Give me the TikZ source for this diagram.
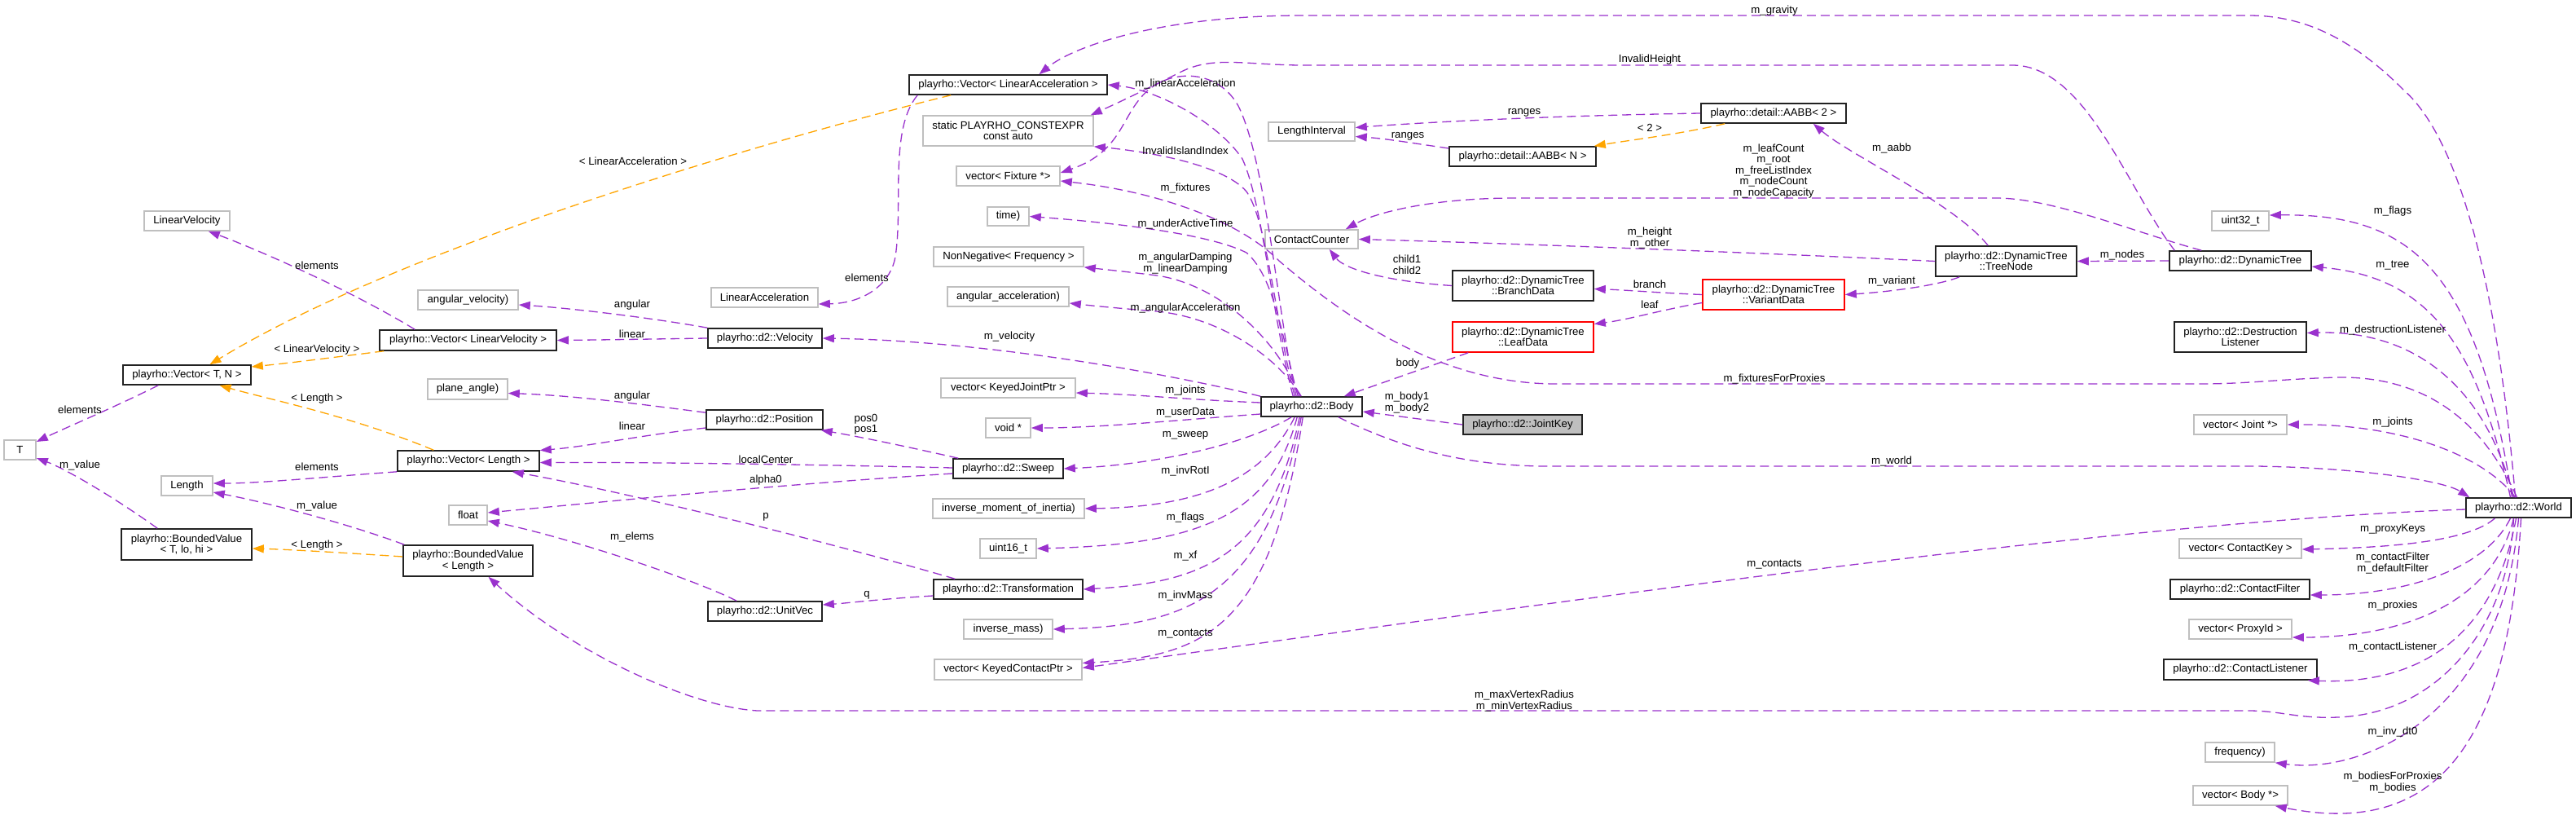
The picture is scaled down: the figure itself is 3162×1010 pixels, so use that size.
\documentclass[tikz,border=0pt]{standalone}
\usepackage{fontspec}
\setmainfont{Liberation Sans}
\usetikzlibrary{arrows.meta}
\definecolor{pur}{HTML}{9A32CD}
\definecolor{ora}{HTML}{FFA500}
\definecolor{gbord}{HTML}{BFBFBF}
\definecolor{bbord}{HTML}{222222}
\newcommand{\mybox}[7]{\node[#1, minimum width={(#5-#3)*1pt}, minimum height={(#6-#4)*1pt}] (#2) at ({(#3+#5)/2},{(#4+#6)/2}) {#7};}
\begin{document}
\begin{tikzpicture}[x=1pt,y=-1pt,
  every node/.style={font=\fontsize{13.2}{13.5}\selectfont},
  basebox/.style={rectangle, inner sep=0pt, align=center, line width=1.6pt, fill=white},
  nb/.style={basebox, draw=bbord},
  ng/.style={basebox, draw=gbord},
  nr/.style={basebox, draw=red},
  nj/.style={basebox, draw=bbord, fill=gbord},
  lbl/.style={inner sep=0pt, align=center},
  pe/.style={color=pur, line width=1.3pt, dash pattern=on 11pt off 6pt, -{Triangle[length=14pt,width=10pt]}},
  oe/.style={pe, color=ora},
]
\fill[white] (0,0) rectangle (3162,1010);
\useasboundingbox (0,0) rectangle (3162,1010);

% ---------- nodes ----------
\mybox{ng}{LinearVelocity}{177}{259}{282}{283}{LinearVelocity}
\mybox{nb}{VecLinAcc}{1116}{92}{1359}{116}{playrho::Vector< LinearAcceleration >}
\mybox{ng}{static}{1133}{142}{1342}{179}{static PLAYRHO\_CONSTEXPR\\const auto}
\mybox{ng}{vecFix}{1174}{204}{1301}{228}{vector< Fixture *>}
\mybox{ng}{time}{1212}{254}{1263}{277}{time)}
\mybox{ng}{nonneg}{1146}{303}{1330}{327}{NonNegative< Frequency >}
\mybox{ng}{LengthInterval}{1557}{150}{1663}{173}{LengthInterval}
\mybox{nb}{AABB2}{2088}{127}{2266}{151}{playrho::detail::AABB< 2 >}
\mybox{nb}{AABBN}{1779}{180}{1959}{204}{playrho::detail::AABB< N >}
\mybox{ng}{ContactCounter}{1553}{282}{1667}{305}{ContactCounter}
\mybox{nb}{TreeNode}{2376}{302}{2549}{339}{playrho::d2::DynamicTree\\::TreeNode}
\mybox{nb}{DynamicTree}{2663}{308}{2837}{332}{playrho::d2::DynamicTree}
\mybox{ng}{uintt}{2715}{259}{2785}{283}{uint32\_t}
\mybox{nb}{VecTN}{151}{448}{308}{472}{playrho::Vector< T, N >}
\mybox{ng}{T}{5}{540}{44}{564}{T}
\mybox{nb}{VecLinVel}{466}{405}{683}{430}{playrho::Vector< LinearVelocity >}
\mybox{ng}{angvel}{513}{356}{636}{380}{angular\_velocity)}
\mybox{ng}{planeangle}{525}{465}{623}{490}{plane\_angle)}
\mybox{nb}{VecLen}{488}{553}{662}{578}{playrho::Vector< Length >}
\mybox{ng}{Length}{198}{584}{261}{608}{Length}
\mybox{ng}{float}{551}{620}{598}{644}{float}
\mybox{nb}{BVT}{149}{649}{309}{687}{playrho::BoundedValue\\< T, lo, hi >}
\mybox{nb}{BVL}{495}{669}{654}{707}{playrho::BoundedValue\\< Length >}
\mybox{ng}{LinearAcceleration}{873}{353}{1004}{377}{LinearAcceleration}
\mybox{ng}{angacc}{1163}{352}{1312}{376}{angular\_acceleration)}
\mybox{nb}{Velocity}{869}{403}{1009}{427}{playrho::d2::Velocity}
\mybox{ng}{vecKJP}{1155}{464}{1320}{488}{vector< KeyedJointPtr >}
\mybox{nb}{Position}{867}{503}{1010}{527}{playrho::d2::Position}
\mybox{ng}{voidp}{1210}{513}{1265}{537}{void *}
\mybox{nb}{Sweep}{1170}{563}{1305}{587}{playrho::d2::Sweep}
\mybox{ng}{invmoi}{1145}{612}{1331}{636}{inverse\_moment\_of\_inertia)}
\mybox{ng}{uintst}{1203}{661}{1272}{685}{uint16\_t}
\mybox{nb}{Body}{1548}{487}{1672}{511}{playrho::d2::Body}
\mybox{nb}{BranchData}{1783}{332}{1956}{369}{playrho::d2::DynamicTree\\::BranchData}
\mybox{nr}{VariantData}{2090}{343}{2264}{380}{playrho::d2::DynamicTree\\::VariantData}
\mybox{nr}{LeafData}{1783}{395}{1956}{432}{playrho::d2::DynamicTree\\::LeafData}
\mybox{nj}{JointKey}{1796}{509}{1942}{533}{playrho::d2::JointKey}
\mybox{nb}{DestructionListener}{2669}{395}{2831}{432}{playrho::d2::Destruction\\Listener}
\mybox{ng}{vecJoint}{2693}{509}{2807}{533}{vector< Joint *>}
\mybox{nb}{World}{3027}{611}{3156}{635}{playrho::d2::World}
\mybox{ng}{vecCK}{2675}{661}{2825}{685}{vector< ContactKey >}
\mybox{nb}{Transformation}{1146}{711}{1329}{735}{playrho::d2::Transformation}
\mybox{nb}{UnitVec}{869}{738}{1009}{762}{playrho::d2::UnitVec}
\mybox{ng}{invmass}{1183}{760}{1292}{784}{inverse\_mass)}
\mybox{ng}{vecKCP}{1147}{809}{1328}{834}{vector< KeyedContactPtr >}
\mybox{nb}{ContactFilter}{2664}{711}{2835}{735}{playrho::d2::ContactFilter}
\mybox{ng}{vecProxy}{2687}{760}{2813}{784}{vector< ProxyId >}
\mybox{nb}{ContactListener}{2656}{809}{2844}{834}{playrho::d2::ContactListener}
\mybox{ng}{frequency}{2707}{911}{2792}{935}{frequency)}
\mybox{ng}{vecBody}{2692}{964}{2808}{988}{vector< Body *>}

% ---------- edges: Body ----------
\draw[pe] (JointKey.west) -- ([yshift=-6pt]Body.east);
\draw[pe] ([xshift=20pt]LeafData.south west) -- ([xshift=-23pt]Body.north east);
\draw[pe] ([xshift=-30pt]Body.south east) .. controls (1720,550) and (1800,572) .. (1900,572) -- (2770,572) .. controls (2900,574) and (3000,590) .. ([xshift=5pt]World.north west);
\draw[pe] ([xshift=40pt]Body.north west) .. controls (1560,380) and (1550,250) .. (1525,195) .. controls (1495,150) and (1420,110) .. (VecLinAcc.east);
\draw[pe] ([xshift=42pt]Body.north west) .. controls (1565,390) and (1555,270) .. (1530,235) .. controls (1500,200) and (1400,185) .. (static.south east);
\draw[pe] ([xshift=44pt]Body.north west) .. controls (1570,400) and (1555,200) .. (1520,130) .. controls (1495,85) and (1440,85) .. (1410,110) .. controls (1375,140) and (1380,185) .. ([yshift=4pt]vecFix.east);
\draw[pe] ([xshift=46pt]Body.north west) .. controls (1575,420) and (1565,340) .. (1530,310) .. controls (1480,285) and (1350,272) .. (time.east);
\draw[pe] ([xshift=48pt]Body.north west) .. controls (1570,420) and (1500,350) .. (1420,338) .. controls (1380,333) and (1350,330) .. (nonneg.south east);
\draw[pe] ([xshift=50pt]Body.north west) .. controls (1570,440) and (1500,390) .. (1420,382) .. controls (1370,378) and (1340,375) .. ([yshift=-8pt]angacc.east);
\draw[pe] (Body.north west) .. controls (1420,455) and (1200,418) .. (Velocity.east);
\draw[pe] ([yshift=5pt]Body.west) .. controls (1450,490) and (1400,484) .. ([yshift=-6pt]vecKJP.east);
\draw[pe] ([yshift=-9pt]Body.west) .. controls (1450,515) and (1350,525) .. (voidp.east);
\draw[pe] ([xshift=38pt]Body.south west) .. controls (1530,545) and (1420,570) .. (Sweep.east);
\draw[pe] ([xshift=42pt]Body.south west) .. controls (1550,590) and (1470,622) .. (invmoi.east);
\draw[pe] ([xshift=45pt]Body.south west) .. controls (1560,630) and (1480,668) .. (uintst.east);
\draw[pe] ([xshift=48pt]Body.south west) .. controls (1560,680) and (1480,715) .. (Transformation.east);
\draw[pe] ([xshift=50pt]Body.south west) .. controls (1555,730) and (1460,768) .. (invmass.east);
\draw[pe] ([xshift=52pt]Body.south west) .. controls (1560,770) and (1480,805) .. ([yshift=8pt]vecKCP.east);

% ---------- edges: World ----------
\draw[pe] ([xshift=-4pt]World.north) .. controls (3070,400) and (3030,180) .. (2950,110) .. controls (2880,40) and (2820,19) .. (2760,19) -- (1600,19) .. controls (1430,19) and (1320,55) .. ([xshift=38pt]VecLinAcc.north);
\draw[pe] ([xshift=-2pt]World.north) .. controls (3040,500) and (2960,462) .. (2870,463) .. controls (2800,465) and (2760,471) .. (2700,471) -- (1910,471) .. controls (1760,471) and (1640,380) .. (1570,320) .. controls (1520,270) and (1420,235) .. ([yshift=-6pt]vecFix.east);
\draw[pe] ([xshift=-10pt]World.north) .. controls (3040,420) and (2980,340) .. ([yshift=-7pt]DynamicTree.east);
\draw[pe] ([xshift=-8pt]World.north) .. controls (3040,330) and (2960,262) .. ([yshift=7pt]uintt.east);
\draw[pe] ([xshift=-6pt]World.north) .. controls (3050,470) and (2960,405) .. ([yshift=5pt]DestructionListener.east);
\draw[pe] ([xshift=-4pt]World.north) .. controls (3050,560) and (2950,520) .. (vecJoint.east);
\draw[pe] ([yshift=-2pt]World.west) .. controls (2600,640) and (1900,740) .. ([yshift=2pt]vecKCP.east);
\draw[pe] ([xshift=-29pt]World.south) .. controls (3030,665) and (2930,672) .. ([yshift=-1pt]vecCK.east);
\draw[pe] ([xshift=-10pt]World.south) .. controls (3050,700) and (2950,730) .. ([yshift=-7pt]ContactFilter.east);
\draw[pe] ([xshift=-6pt]World.south) .. controls (3060,740) and (2950,782) .. ([yshift=-10pt]vecProxy.east);
\draw[pe] ([xshift=-3pt]World.south) .. controls (3060,790) and (2960,840) .. ([xshift=-12pt]ContactListener.south east);
\draw[pe] (World.south) .. controls (3070,880) and (2900,950) .. (frequency.south east);
\draw[pe] ([xshift=3pt]World.south) .. controls (3080,900) and (3000,1030) .. ([xshift=-16pt]vecBody.south east);
\draw[pe] ([xshift=-6pt]World.south) .. controls (3080,760) and (3000,875) .. (2870,880) .. controls (2820,882) and (2800,872) .. (2760,872) -- (930,872) .. controls (850,868) and (700,800) .. ([xshift=25pt]BVL.south);

% ---------- edges: tree ----------
\draw[pe] ([xshift=7pt]DynamicTree.north west) .. controls (2610,230) and (2560,80) .. (2470,80) -- (1600,80) .. controls (1530,80) and (1490,68) .. (1450,88) .. controls (1410,108) and (1375,125) .. ([xshift=-4pt]static.north east);
\draw[pe] ([xshift=40pt]DynamicTree.north west) .. controls (2620,285) and (2520,243) .. (2450,243) -- (1860,243) .. controls (1760,243) and (1690,260) .. ([xshift=-16pt]ContactCounter.north east);
\draw[pe] (DynamicTree.west) -- (TreeNode.east);
\draw[pe] (TreeNode.west) .. controls (2200,312) and (1900,300) .. (ContactCounter.east);
\draw[pe] (BranchData.west) .. controls (1700,345) and (1650,330) .. ([xshift=-36pt]ContactCounter.south east);
\draw[pe] ([xshift=65pt]TreeNode.north west) .. controls (2400,250) and (2270,190) .. ([xshift=-41pt]AABB2.south east);
\draw[pe] ([xshift=30pt]TreeNode.south west) .. controls (2380,350) and (2320,358) .. (VariantData.east);
\draw[pe] (VariantData.west) .. controls (2030,359) and (2000,356) .. ([yshift=-4pt]BranchData.east);
\draw[pe] ([yshift=-10pt]VariantData.west) .. controls (2040,380) and (2000,392) .. ([yshift=16pt]LeafData.east);
\draw[pe] (AABB2.west) .. controls (1900,142) and (1750,150) .. ([yshift=5pt]LengthInterval.east);
\draw[pe] ([yshift=10pt]AABBN.west) .. controls (1730,175) and (1700,170) .. ([yshift=-6pt]LengthInterval.east);
\draw[oe] ([xshift=30pt]AABB2.south west) .. controls (2060,165) and (2000,172) .. ([xshift=-3pt]AABBN.north east);

% ---------- edges: left part ----------
\draw[pe] ([xshift=11pt]VecLinAcc.south west) .. controls (1090,160) and (1110,260) .. (1098,320) .. controls (1090,350) and (1060,372) .. ([yshift=-8pt]LinearAcceleration.east);
\draw[oe] ([xshift=52pt]VecLinAcc.south west) .. controls (950,170) and (500,300) .. ([xshift=28pt]VecTN.north);
\draw[pe] ([xshift=44pt]VecLinVel.north west) .. controls (420,350) and (300,300) .. ([xshift=-27pt]LinearVelocity.south east);
\draw[oe] ([xshift=6pt]VecLinVel.south west) .. controls (420,437) and (360,445) .. ([yshift=10pt]VecTN.east);
\draw[oe] ([xshift=45pt]VecLen.north west) .. controls (430,510) and (330,490) .. ([xshift=40pt]VecTN.south);
\draw[pe] (VecLen.south west) .. controls (400,585) and (320,593) .. ([yshift=3pt]Length.east);
\draw[pe] ([xshift=44pt]VecTN.south west) .. controls (140,500) and (80,525) .. ([yshift=10pt]T.east);
\draw[pe] ([xshift=45pt]BVT.north west) .. controls (140,610) and (80,575) .. ([yshift=-10pt]T.east);
\draw[pe] ([xshift=2pt]BVL.north west) .. controls (420,640) and (320,615) .. ([yshift=-8pt]Length.east);
\draw[oe] ([yshift=5pt]BVL.west) .. controls (420,678) and (350,674) .. ([yshift=-5pt]BVT.east);
\draw[pe] (Velocity.north west) .. controls (800,390) and (700,378) .. ([yshift=-6pt]angvel.east);
\draw[pe] (Velocity.west) .. controls (800,416) and (740,417) .. (VecLinVel.east);
\draw[pe] ([yshift=-4pt]Position.north west) .. controls (780,495) and (700,485) .. ([yshift=-5pt]planeangle.east);
\draw[pe] ([yshift=-10pt]Position.west) .. controls (780,535) and (720,548) .. ([yshift=13pt]VecLen.east);
\draw[pe] ([yshift=1pt]Sweep.west) .. controls (1000,570) and (800,567) .. ([yshift=-2pt]VecLen.east);
\draw[pe] ([yshift=-6pt]Sweep.west) .. controls (950,595) and (750,615) .. ([yshift=3pt]float.east);
\draw[pe] ([xshift=7pt]Sweep.north west) .. controls (1100,545) and (1050,535) .. ([xshift=-3pt]Position.south east);
\draw[pe] ([xshift=27pt]Transformation.north west) .. controls (1000,660) and (750,600) .. ([xshift=-34pt]VecLen.south east);
\draw[pe] ([yshift=-8pt]Transformation.west) .. controls (1080,735) and (1040,740) .. ([yshift=8pt]UnitVec.east);
\draw[pe] ([xshift=36pt]UnitVec.north west) .. controls (850,710) and (700,660) .. ([yshift=-7pt]float.east);

% ---------- labels ----------
\node[lbl] (l1) at (2178,13) {m\_gravity};
\node[lbl] (l2) at (2025,73) {InvalidHeight};
\node[lbl] (l3) at (1871,138) {ranges};
\node[lbl] (l4) at (2025,157) {< 2 >};
\node[lbl] (l5) at (1728,167) {ranges};
\node[lbl] (l6) at (2177,210) {m\_leafCount\\m\_root\\m\_freeListIndex\\m\_nodeCount\\m\_nodeCapacity};
\node[lbl] (l7) at (2322,182) {m\_aabb};
\node[lbl] (l8) at (2025,292) {m\_height\\m\_other};
\node[lbl] (l9) at (1727,325) {child1\\child2};
\node[lbl] (l10) at (2605,313) {m\_nodes};
\node[lbl] (l11) at (2937,259) {m\_flags};
\node[lbl] (l12) at (2937,326) {m\_tree};
\node[lbl] (l13) at (2322,345) {m\_variant};
\node[lbl] (l14) at (2025,349) {branch};
\node[lbl] (l15) at (2025,374) {leaf};
\node[lbl] (l16) at (1728,446) {body};
\node[lbl] (l17) at (1727,494) {m\_body1\\m\_body2};
\node[lbl] (l18) at (2178,465) {m\_fixturesForProxies};
\node[lbl] (l19) at (2322,566) {m\_world};
\node[lbl] (l20) at (2937,405) {m\_destructionListener};
\node[lbl] (l21) at (2937,518) {m\_joints};
\node[lbl] (l22) at (2937,649) {m\_proxyKeys};
\node[lbl] (l23) at (2937,691) {m\_contactFilter\\m\_defaultFilter};
\node[lbl] (l24) at (2937,743) {m\_proxies};
\node[lbl] (l25) at (2937,794) {m\_contactListener};
\node[lbl] (l26) at (2937,898) {m\_inv\_dt0};
\node[lbl] (l27) at (2937,960) {m\_bodiesForProxies\\m\_bodies};
\node[lbl] (l28) at (2178,693) {m\_contacts};
\node[lbl] (l29) at (1871,860) {m\_maxVertexRadius\\m\_minVertexRadius};
\node[lbl] (l30) at (1455,103) {m\_linearAcceleration};
\node[lbl] (l31) at (1455,185) {InvalidIslandIndex};
\node[lbl] (l32) at (1455,231) {m\_fixtures};
\node[lbl] (l33) at (1455,275) {m\_underActiveTime};
\node[lbl] (l34) at (1455,323) {m\_angularDamping\\m\_linearDamping};
\node[lbl] (l35) at (1455,378) {m\_angularAcceleration};
\node[lbl] (l36) at (1239,413) {m\_velocity};
\node[lbl] (l37) at (1455,479) {m\_joints};
\node[lbl] (l38) at (1455,506) {m\_userData};
\node[lbl] (l39) at (1455,534) {m\_sweep};
\node[lbl] (l40) at (1455,578) {m\_invRotI};
\node[lbl] (l41) at (1455,635) {m\_flags};
\node[lbl] (l42) at (1455,682) {m\_xf};
\node[lbl] (l43) at (1455,731) {m\_invMass};
\node[lbl] (l44) at (1455,778) {m\_contacts};
\node[lbl] (l45) at (1064,341) {elements};
\node[lbl] (l46) at (777,198) {< LinearAcceleration >};
\node[lbl] (l47) at (389,326) {elements};
\node[lbl] (l48) at (389,429) {< LinearVelocity >};
\node[lbl] (l49) at (389,489) {< Length >};
\node[lbl] (l50) at (389,573) {elements};
\node[lbl] (l51) at (389,621) {m\_value};
\node[lbl] (l52) at (389,669) {< Length >};
\node[lbl] (l53) at (98,503) {elements};
\node[lbl] (l54) at (98,571) {m\_value};
\node[lbl] (l55) at (776,374) {angular};
\node[lbl] (l56) at (776,410) {linear};
\node[lbl] (l57) at (776,486) {angular};
\node[lbl] (l58) at (776,523) {linear};
\node[lbl] (l59) at (1063,521) {pos0\\pos1};
\node[lbl] (l60) at (940,564) {localCenter};
\node[lbl] (l61) at (940,589) {alpha0};
\node[lbl] (l62) at (940,634) {p};
\node[lbl] (l63) at (776,659) {m\_elems};
\node[lbl] (l64) at (1064,730) {q};
\end{tikzpicture}
\end{document}
